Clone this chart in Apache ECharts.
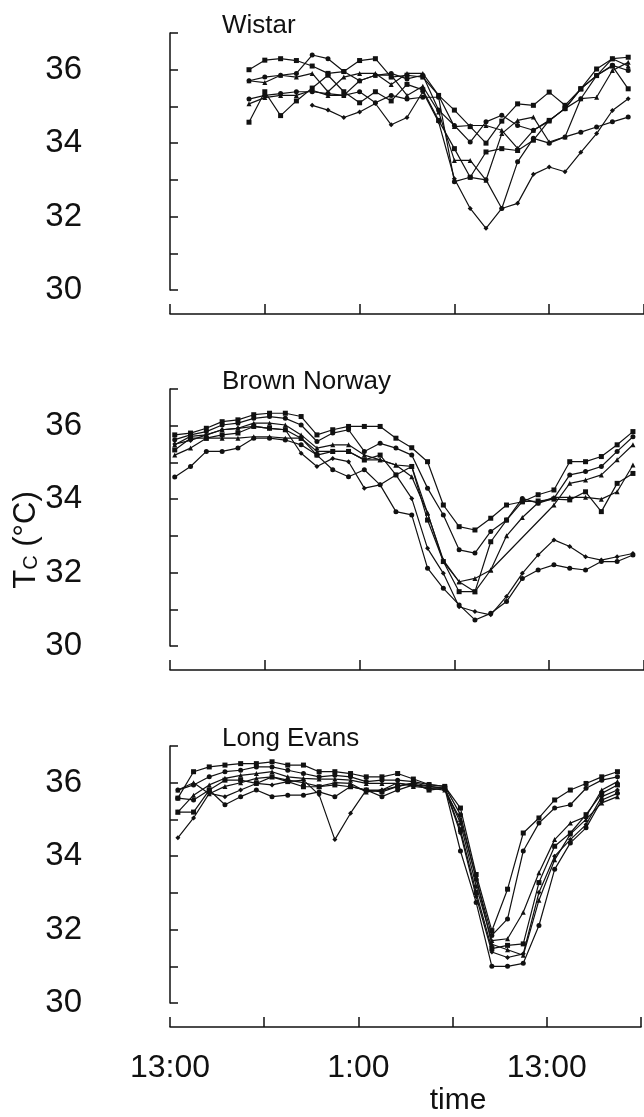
<!DOCTYPE html>
<html>
<head>
<meta charset="utf-8">
<script src="https://cdn.jsdelivr.net/npm/echarts@6/dist/echarts.min.js"></script>
<style>
  html, body { margin: 0; padding: 0; background: #fff; }
  #chart { width: 644px; height: 1117px; }
</style>
</head>
<body>
<div id="chart"></div>
<script>
// hours after 13:00 on day 1 of the first reading in each panel (one reading per hour)
const wistarStart = 5;
const brownStart = 0.3;
const evansStart = 0.5;

const xTickLabels = { 0: "13:00", 12: "1:00", 24: "13:00" };

// Wistar, core temperature (°C)
const wistar1 = [36.0, 36.26, 36.3, 36.25, 36.1, 35.9, 35.95, 36.25, 36.3, 35.8, 35.85, 35.8, 35.3, 34.9, 34.45, 34.0, 34.6, 35.07, 35.03, 35.39, 35.03, 35.48, 36.02, 36.3, 36.34];
const wistar2 = [35.7, 35.8, 35.85, 35.9, 36.4, 36.3, 35.95, 35.7, 35.85, 35.9, 35.75, 35.85, 34.9, 34.48, 34.03, 34.58, 34.76, 34.48, 34.35, 34.62, 34.94, 35.21, 35.84, 36.12, 35.98];
const wistar3 = [35.07, 35.24, 35.3, 35.3, 35.44, 35.3, 35.3, 35.7, 35.85, 35.85, 35.3, 35.55, 34.85, 33.53, 33.53, 32.99, 34.26, 34.62, 34.71, 34.03, 34.17, 35.21, 35.25, 35.98, 36.2];
const wistar4 = [34.57, 35.4, 34.75, 35.15, 35.5, 35.85, 35.4, 35.1, 35.4, 35.15, 35.6, 35.45, 34.62, 33.85, 33.07, 33.76, 33.85, 33.8, 34.08, 34.62, 34.94, 35.48, 35.84, 36.1, 35.48];
const wistar5 = [null, null, null, null, 35.03, 34.9, 34.7, 34.85, 35.08, 34.5, 34.7, 35.4, 34.58, 33.03, 32.22, 31.68, 32.22, 32.36, 33.15, 33.35, 33.22, 33.75, 34.26, 34.89, 35.21];
const wistar6 = [35.2, 35.3, 35.35, 35.4, 35.4, 35.35, 35.3, 35.4, 35.1, 35.3, 35.2, 35.25, 35.25, 32.95, 33.07, 33.0, 32.22, 33.49, 34.13, 34.0, 34.17, 34.3, 34.44, 34.58, 34.71];
const wistar7 = [35.7, 35.65, 35.85, 35.8, 35.9, 35.4, 35.8, 35.9, 35.9, 35.6, 35.9, 35.9, 35.3, 34.45, 34.48, 34.48, 34.35, 33.86, 34.35, 34.6, 34.95, 35.48, 35.84, 36.3, 36.1];

// Brown Norway
const brown1 = [35.75, 35.8, 35.93, 36.11, 36.16, 36.3, 36.34, 36.34, 36.25, 35.75, 35.89, 35.98, 35.98, 35.98, 35.66, 35.4, 35.02, 33.84, 33.25, 33.16, 33.48, 33.84, 33.93, 34.12, 34.25, 35.02, 35.02, 35.16, 35.48, 35.84];
const brown2 = [35.62, 35.75, 35.84, 36.02, 36.07, 36.2, 36.25, 36.2, 36.02, 35.57, 35.8, 35.89, 35.3, 35.52, 35.39, 35.2, 34.3, 33.57, 32.62, 32.53, 33.12, 33.43, 34.02, 33.89, 34.02, 34.66, 34.75, 34.89, 35.3, 35.7];
const brown3 = [35.48, 35.71, 35.75, 35.89, 35.93, 36.07, 36.07, 36.02, 35.75, 35.39, 35.48, 35.48, 35.2, 35.07, 34.93, 34.61, 33.62, 32.34, 31.75, 31.84, 32.07, null, null, null, 33.84, 34.43, 34.52, 34.66, 35.07, 35.48];
const brown4 = [35.34, 35.66, 35.66, 35.75, 35.8, 35.98, 35.93, 35.89, 35.66, 35.2, 35.3, 35.3, 35.07, 35.2, 34.66, 34.89, 33.43, 32.3, 31.48, 31.48, 32.84, 33.43, 33.93, 33.95, 34.0, 33.98, 34.2, 33.66, 34.43, 34.7];
const brown5 = [35.5, 35.6, 35.75, 35.89, 35.93, 35.98, 35.93, 35.89, 35.25, 34.89, 35.11, 35.02, 34.3, 34.39, 34.66, 34.02, 32.66, 31.98, 31.07, 30.94, 30.85, 31.35, 31.98, 32.48, 32.89, 32.71, 32.43, 32.34, 32.43, 32.52];
const brown6 = [34.6, 34.89, 35.3, 35.3, 35.39, 35.66, 35.66, 35.61, 35.48, 35.2, 34.8, 34.61, 34.8, 34.39, 33.66, 33.57, 32.12, 31.57, 31.12, 30.71, 30.89, 31.21, 31.84, 32.07, 32.21, 32.12, 32.07, 32.3, 32.3, 32.48];
const brown7 = [35.2, 35.39, 35.66, 35.66, 35.66, 35.7, 35.7, 35.66, 35.66, 35.3, 35.3, 35.3, 35.07, 35.07, 34.93, 34.89, 33.62, 32.3, 31.75, 31.48, 32.07, 33.0, 33.5, 33.9, 34.05, 34.05, 34.05, 34.0, 34.2, 34.93];

// Long Evans
const evans1 = [35.58, 36.3, 36.43, 36.48, 36.52, 36.52, 36.57, 36.48, 36.48, 36.3, 36.3, 36.25, 36.16, 36.16, 36.25, 36.1, 35.95, 35.9, 35.31, 33.5, 31.97, 33.1, 34.63, 35.04, 35.53, 35.8, 35.98, 36.16, 36.3];
const evans2 = [35.8, 35.94, 36.16, 36.3, 36.34, 36.43, 36.43, 36.34, 36.25, 36.16, 36.2, 36.16, 36.03, 36.07, 36.07, 36.03, 35.95, 35.9, 35.13, 33.37, 31.84, 32.29, 34.14, 34.9, 35.31, 35.4, 35.85, 36.07, 36.16];
const evans3 = [35.2, 35.66, 35.94, 36.12, 36.2, 36.25, 36.3, 36.16, 36.12, 36.1, 36.1, 36.07, 35.98, 35.98, 35.98, 35.94, 35.9, 35.85, 34.9, 33.19, 31.7, 31.75, 32.47, 33.55, 34.45, 34.9, 35.08, 35.8, 36.03];
const evans4 = [35.2, 35.2, 35.8, 36.07, 36.07, 35.98, 36.16, 36.03, 35.89, 35.89, 35.94, 35.89, 35.8, 35.75, 35.9, 35.98, 35.8, 35.85, 34.72, 33.01, 31.48, 31.57, 31.61, 33.28, 34.27, 34.63, 35.13, 35.71, 35.94];
const evans5 = [34.5, 35.04, 35.71, 35.62, 35.8, 35.98, 35.94, 36.03, 36.07, 35.67, 34.45, 35.17, 35.8, 35.8, 35.9, 36.0, 35.9, 35.85, 34.63, 32.9, 31.39, 31.24, 31.34, 33.01, 34.0, 34.45, 34.86, 35.62, 35.8];
const evans6 = [35.58, 35.53, 35.8, 35.4, 35.62, 35.8, 35.62, 35.66, 35.66, 35.75, 35.62, 35.9, 35.8, 35.62, 35.8, 35.94, 35.85, 35.85, 34.14, 32.74, 31.0, 31.0, 31.08, 32.11, 33.64, 34.36, 34.77, 35.53, 35.71];
const evans7 = [35.8, 36.0, 35.7, 35.9, 36.0, 36.12, 36.16, 36.07, 36.0, 35.9, 36.0, 35.98, 35.75, 35.8, 36.0, 35.9, 35.85, 35.8, 35.0, 33.4, 31.6, 31.45, 31.3, 32.8, 33.9, 34.6, 35.0, 35.45, 35.62];

const FONT = "Liberation Sans, Arial, sans-serif";
const INK = "#111";
const symbols = ["rect", "circle", "triangle", "rect", "diamond", "circle", "triangle"];

const panels = [
  { name: "Wistar", top: 33, start: wistarStart, lines: [wistar1, wistar2, wistar3, wistar4, wistar5, wistar6, wistar7] },
  { name: "Brown Norway", top: 389, start: brownStart, lines: [brown1, brown2, brown3, brown4, brown5, brown6, brown7] },
  { name: "Long Evans", top: 746, start: evansStart, lines: [evans1, evans2, evans3, evans4, evans5, evans6, evans7] }
];

const chart = echarts.init(document.getElementById("chart"));

const option = {
  animation: false,
  backgroundColor: "#fff",
  title: [],
  grid: [],
  xAxis: [],
  yAxis: [],
  series: [],
  graphic: [
    {
      type: "text",
      x: 26,
      y: 540,
      rotation: Math.PI / 2,
      style: {
        text: "{t|T}{s|C}{t| (°C)}",
        align: "center",
        verticalAlign: "middle",
        fill: INK,
        rich: {
          t: { fontSize: 31, fontFamily: FONT, fill: INK },
          s: { fontSize: 20, fontFamily: FONT, fill: INK, padding: [11, 0, 0, 0] }
        }
      }
    },
    {
      type: "text",
      x: 458,
      y: 1101,
      style: {
        text: "time",
        align: "center",
        verticalAlign: "middle",
        fontSize: 30,
        fontFamily: FONT,
        fill: INK
      }
    }
  ]
};

panels.forEach((p, k) => {
  const last = k === panels.length - 1;
  option.title.push({
    text: p.name,
    left: 217,
    top: p.top - 25,
    textStyle: { fontSize: 26, fontWeight: "normal", fontFamily: FONT, color: INK }
  });
  option.grid.push({ left: 170, right: 0, top: p.top, height: 257 });
  option.xAxis.push({
    type: "value",
    gridIndex: k,
    min: 0,
    max: 30,
    interval: 6,
    offset: 24,
    axisLine: { lineStyle: { color: INK, width: 1.5 } },
    axisTick: { inside: true, length: 10, lineStyle: { color: INK, width: 1.5 } },
    axisLabel: {
      show: last,
      margin: 25,
      fontSize: 32,
      fontFamily: FONT,
      color: INK,
      formatter: v => xTickLabels[v] || ""
    },
    splitLine: { show: false }
  });
  option.yAxis.push({
    type: "value",
    gridIndex: k,
    min: 30,
    max: 37,
    interval: 1,
    offset: 51,
    axisLine: { show: true, lineStyle: { color: INK, width: 1.5 } },
    axisTick: { show: true, inside: true, length: 8, lineStyle: { color: INK, width: 1.5 } },
    axisLabel: {
      margin: 37,
      fontSize: 33,
      fontFamily: FONT,
      color: INK,
      formatter: v => (v % 2 === 0 ? String(v) : "")
    },
    splitLine: { show: false }
  });
  p.lines.forEach((vals, j) => {
    option.series.push({
      type: "line",
      xAxisIndex: k,
      yAxisIndex: k,
      data: vals.map((v, i) => [p.start + i, v]),
      connectNulls: true,
      symbol: symbols[j],
      symbolSize: 5,
      showSymbol: true,
      lineStyle: { color: INK, width: 1.2 },
      itemStyle: { color: INK },
      emphasis: { disabled: true }
    });
  });
});

chart.setOption(option);
</script>
</body>
</html>
